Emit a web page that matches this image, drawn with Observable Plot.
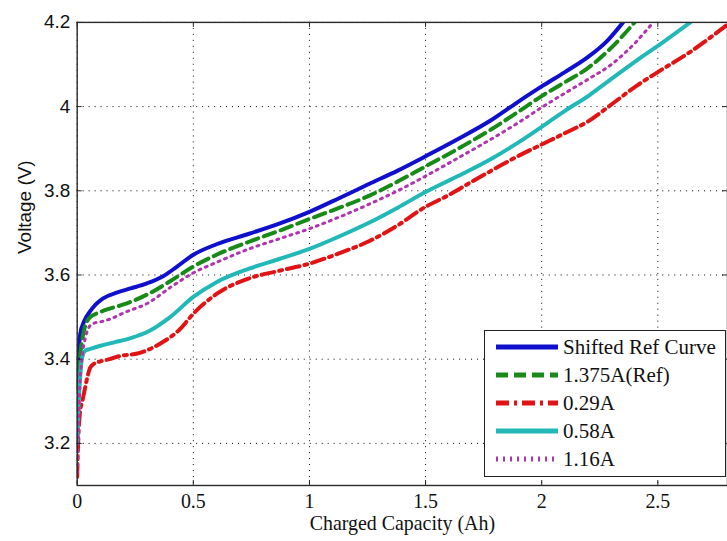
<!DOCTYPE html>
<html><head><meta charset="utf-8">
<script src="https://cdn.jsdelivr.net/npm/d3@7"></script>
<script src="https://cdn.jsdelivr.net/npm/@observablehq/plot@0.6"></script>
<style>
html,body{margin:0;padding:0;background:#fff;overflow:hidden;width:727px;height:541px}
#wrap{position:relative;width:727px;height:541px;overflow:hidden}
#chart{position:absolute;left:0;top:0}
#legend{position:absolute;left:484px;top:330px;width:242px;height:147px;border:1px solid #222;background:#fff;color:#111;box-sizing:border-box}
.row{position:absolute;left:0;height:28px;width:100%}
.row svg{position:absolute;left:11px;top:9px}
.row span{position:absolute;left:78px;top:0;line-height:28px;white-space:nowrap;font-family:"Liberation Serif","Times New Roman",serif;font-size:21px}
</style></head><body><div id="wrap"><div id="chart"></div><div id="legend"></div></div>
<script>
// ---- data ----
const xTicks = [0, 0.5, 1, 1.5, 2, 2.5];
const yTicks = [3.2, 3.4, 3.6, 3.8, 4.0, 4.2];
const xTickLabels = ["0", "0.5", "1", "1.5", "2", "2.5"];
const yTickLabels = ["3.2", "3.4", "3.6", "3.8", "4", "4.2"];

const seriesNames = ["Shifted Ref Curve", "1.375A(Ref)", "0.29A", "0.58A", "1.16A"];

const refX = [0, 0.005, 0.013, 0.03, 0.056, 0.08, 0.11, 0.17, 0.23, 0.3, 0.37, 0.43, 0.5, 0.6, 0.74, 0.87, 1.0, 1.13, 1.256, 1.38, 1.5, 1.64, 1.78, 1.9, 2.0, 2.1, 2.2, 2.28, 2.35];
const refV = [3.33, 3.40, 3.46, 3.49, 3.514, 3.53, 3.544, 3.558, 3.568, 3.58, 3.597, 3.62, 3.648, 3.673, 3.698, 3.722, 3.75, 3.783, 3.816, 3.848, 3.882, 3.923, 3.967, 4.012, 4.048, 4.082, 4.118, 4.155, 4.2];

const a1375X = [0, 0.005, 0.015, 0.03, 0.056, 0.09, 0.14, 0.2, 0.31, 0.4, 0.5, 0.6, 0.74, 0.87, 1.0, 1.13, 1.256, 1.38, 1.5, 1.64, 1.78, 1.9, 2.0, 2.1, 2.2, 2.3, 2.4];
const a1375V = [3.28, 3.36, 3.42, 3.47, 3.50, 3.51, 3.52, 3.53, 3.556, 3.585, 3.62, 3.648, 3.679, 3.705, 3.733, 3.76, 3.788, 3.822, 3.858, 3.9, 3.945, 3.988, 4.025, 4.058, 4.092, 4.14, 4.2];

const a029X = [0, 0.004, 0.013, 0.022, 0.034, 0.045, 0.056, 0.075, 0.1, 0.14, 0.18, 0.27, 0.36, 0.44, 0.5, 0.6, 0.74, 0.87, 1.0, 1.13, 1.256, 1.38, 1.5, 1.6, 1.7, 1.8, 1.9, 2.0, 2.1, 2.2, 2.3, 2.41, 2.5, 2.64, 2.8];
const a029V = [3.12, 3.2, 3.278, 3.3, 3.332, 3.36, 3.38, 3.39, 3.395, 3.4, 3.407, 3.415, 3.438, 3.47, 3.508, 3.555, 3.592, 3.61, 3.627, 3.652, 3.68, 3.718, 3.762, 3.79, 3.822, 3.853, 3.883, 3.91, 3.937, 3.965, 4.005, 4.05, 4.082, 4.13, 4.195];

const a058X = [0, 0.005, 0.012, 0.02, 0.034, 0.06, 0.1, 0.16, 0.23, 0.31, 0.4, 0.5, 0.6, 0.74, 0.87, 1.0, 1.13, 1.256, 1.38, 1.5, 1.64, 1.78, 1.9, 2.0, 2.1, 2.2, 2.3, 2.41, 2.52, 2.64];
const a058V = [3.2, 3.28, 3.35, 3.40, 3.42, 3.425, 3.432, 3.44, 3.45, 3.467, 3.5, 3.548, 3.583, 3.615, 3.638, 3.662, 3.692, 3.724, 3.76, 3.797, 3.835, 3.875, 3.915, 3.952, 3.99, 4.025, 4.066, 4.11, 4.152, 4.2];

const a116X = [0, 0.004, 0.01, 0.02, 0.035, 0.056, 0.08, 0.11, 0.14, 0.2, 0.31, 0.4, 0.5, 0.6, 0.74, 0.87, 1.0, 1.13, 1.256, 1.38, 1.5, 1.64, 1.78, 1.9, 2.0, 2.1, 2.2, 2.3, 2.4, 2.48];
const a116V = [3.13, 3.22, 3.32, 3.40, 3.45, 3.48, 3.487, 3.49, 3.495, 3.51, 3.535, 3.57, 3.605, 3.63, 3.662, 3.686, 3.71, 3.738, 3.768, 3.80, 3.835, 3.878, 3.922, 3.962, 3.998, 4.032, 4.065, 4.1, 4.15, 4.2];

// ---- styles ----
const seriesX = [refX, a1375X, a029X, a058X, a116X];
const seriesV = [refV, a1375V, a029V, a058V, a116V];
const colors = ["#1010cc", "#178a17", "#e01414", "#22b8b8", "#b034b0"];
const dashes = [null, "12,6", "13,5,3,5", null, "2,5"];
const widths = [4, 4, 4, 4, 3];
const serif = "Liberation Serif";
const sans = "Liberation Sans";

const W = 730, H = 541, mL = 77, mR = 0, mT = 22, mB = 54;
const fw = W - mL - mR, fh = H - mT - mB;

const lineMarks = seriesNames.map((name, i) => {
  const data = seriesX[i].map((x, j) => ({x, v: seriesV[i][j]}));
  return Plot.line(data, {x: "x", y: "v", stroke: colors[i], strokeWidth: widths[i],
    strokeDasharray: dashes[i] || undefined, strokeLinejoin: "round", curve: "monotone-x", clip: true});
});

const fmtX = d => xTickLabels[xTicks.indexOf(d)];
const fmtY = d => yTickLabels[yTicks.indexOf(d)];

const chart = Plot.plot({
  width: W, height: H, marginLeft: mL, marginRight: mR, marginTop: mT, marginBottom: mB,
  x: {domain: [0, 2.8]},
  y: {domain: [3.1, 4.2]},
  style: {background: "white", overflow: "visible"},
  marks: [
    Plot.gridX(xTicks, {stroke: "#000", strokeOpacity: 1, strokeDasharray: "1,5"}),
    Plot.gridY(yTicks, {stroke: "#000", strokeOpacity: 1, strokeDasharray: "1,5"}),
    ...lineMarks,
    Plot.ruleX(xTicks, {x: d => d, stroke: "#222", insetTop: fh - 5}),
    Plot.ruleX(xTicks, {x: d => d, stroke: "#222", insetBottom: fh - 5}),
    Plot.ruleY(yTicks, {y: d => d, stroke: "#222", insetRight: fw - 5}),
    Plot.ruleY(yTicks, {y: d => d, stroke: "#222", insetLeft: fw - 5}),
    Plot.frame({stroke: "#2a2a2a", strokeWidth: 1.4}),
    Plot.axisX(xTicks, {tickSize: 0, tickPadding: 8, fontSize: 20, fontFamily: serif, fill: "#111", label: null, tickFormat: fmtX}),
    Plot.axisY(yTicks, {tickSize: 0, tickPadding: 7, fontSize: 19, fontFamily: sans, fill: "#111", label: null, tickFormat: fmtY}),
    Plot.text(["Charged Capacity (Ah)"], {frameAnchor: "bottom", dy: 45, text: d => d, fontSize: 20, fontFamily: serif, fill: "#111"}),
    Plot.text(["Voltage (V)"], {frameAnchor: "left", dx: -52, rotate: -90, text: d => d, fontSize: 19, fontFamily: sans, fill: "#111"})
  ]
});
document.getElementById("chart").appendChild(chart);
d3.select(chart).selectAll('g[aria-label="x-axis tick label"] text').style("font-family", '"Liberation Serif", "Times New Roman", serif');

// ---- legend ----
const legend = document.getElementById("legend");
seriesNames.forEach((name, i) => {
  const row = document.createElement("div");
  row.className = "row";
  row.style.top = (2 + i * 28) + "px";
  const ns = "http://www.w3.org/2000/svg";
  const svg = document.createElementNS(ns, "svg");
  svg.setAttribute("width", 62); svg.setAttribute("height", 10);
  const ln = document.createElementNS(ns, "line");
  ln.setAttribute("x1", 0); ln.setAttribute("x2", 62);
  ln.setAttribute("y1", 5); ln.setAttribute("y2", 5);
  ln.setAttribute("stroke", colors[i]);
  ln.setAttribute("stroke-width", 5);
  if (dashes[i]) ln.setAttribute("stroke-dasharray", dashes[i]);
  svg.appendChild(ln);
  row.appendChild(svg);
  const sp = document.createElement("span");
  sp.textContent = name;
  row.appendChild(sp);
  legend.appendChild(row);
});
</script>
</body></html>
